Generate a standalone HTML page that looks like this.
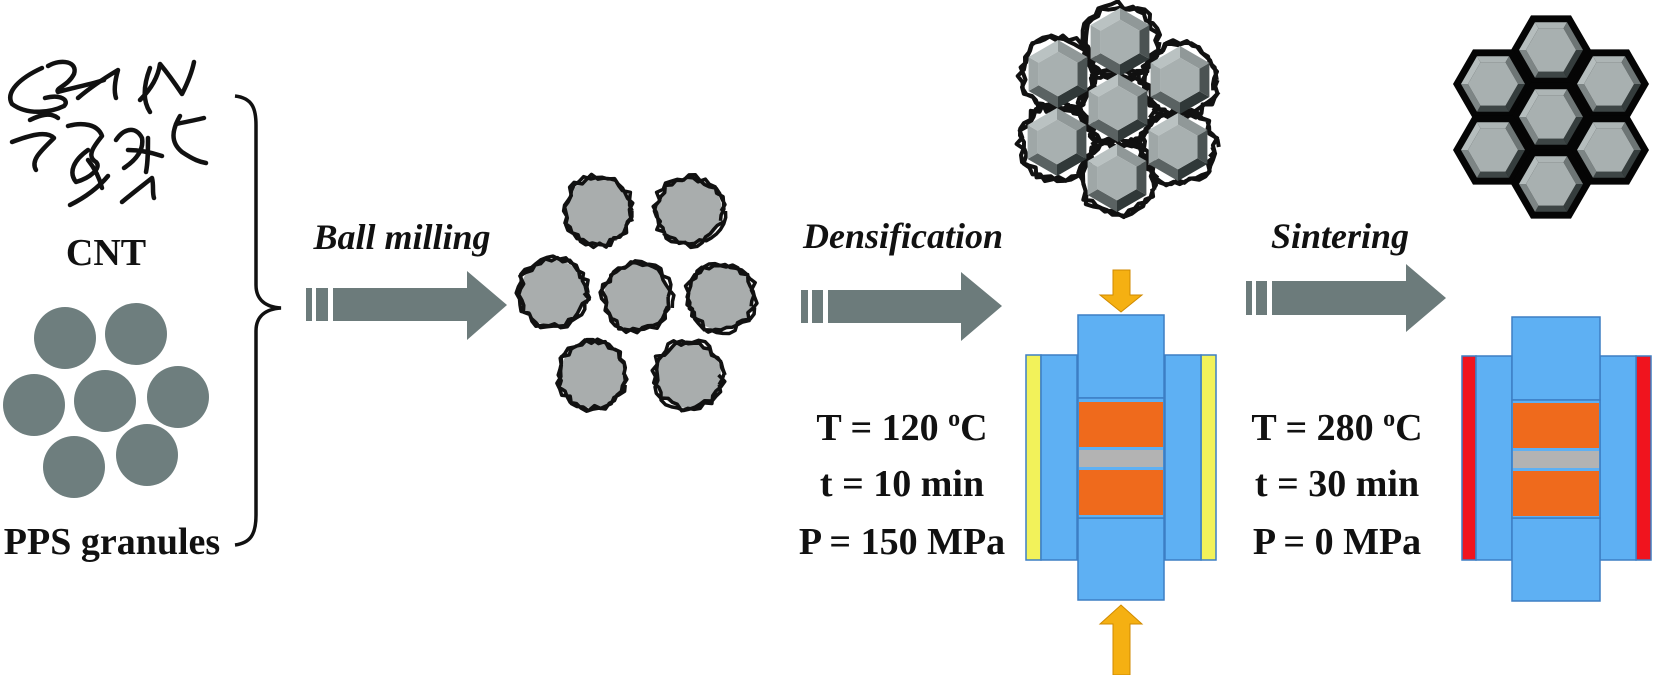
<!DOCTYPE html>
<html><head><meta charset="utf-8"><style>
html,body{margin:0;padding:0;background:#fff;}
svg{display:block}
text{font-family:"Liberation Serif",serif;font-weight:bold;fill:#111}
</style></head><body>
<svg id="s" width="1654" height="675" viewBox="0 0 1654 675" xmlns="http://www.w3.org/2000/svg">
<!-- CNT squiggles -->
<g fill="none" stroke="#111" stroke-width="4.5" stroke-linecap="round" stroke-linejoin="round">
<path d="M42,68 C20,78 5,92 12,104 C28,116 52,112 64,106 C70,100 60,94 45,98"/>
<path d="M48,66 C62,58 78,62 74,74 C68,86 55,88 58,92 C72,88 92,84 104,80"/>
<path d="M78,98 C92,86 108,76 118,70 C114,84 114,92 116,98"/>
<path d="M12,142 C28,136 46,130 54,138 C42,150 30,160 36,170"/>
<path d="M68,126 C82,122 98,124 102,136 C94,146 86,156 96,162 C102,168 90,178 76,182 C68,172 74,160 88,150"/>
<path d="M70,205 C84,198 98,188 108,176"/>
<path d="M116,140 C124,128 136,126 142,138 C144,150 136,160 124,168"/>
<path d="M140,100 C150,90 158,78 160,64 C170,76 178,88 182,94 C188,82 192,72 194,62"/>
<path d="M150,68 C144,84 142,100 150,112"/>
<path d="M180,116 C172,130 170,142 182,152 C194,160 200,162 206,163"/>
<path d="M176,124 C186,122 196,120 204,118"/>
<path d="M122,202 C134,192 142,186 152,178 C154,186 152,192 154,198"/>
<path d="M128,150 C140,150 150,152 162,156 M148,138 C148,150 148,162 146,172"/>
<path d="M88,160 C96,170 100,180 102,188"/>
<path d="M30,120 C40,115 50,112 58,118"/>
</g>
<text x="106" y="265" font-size="38" text-anchor="middle">CNT</text>
<g fill="#6e7e7e">
<circle cx="65" cy="338" r="31"/><circle cx="136" cy="334" r="31"/>
<circle cx="34" cy="405" r="31"/><circle cx="105" cy="401" r="31"/><circle cx="178" cy="397" r="31"/>
<circle cx="74" cy="467" r="31"/><circle cx="147" cy="455" r="31"/>
</g>
<text x="112" y="554" font-size="38" text-anchor="middle">PPS granules</text>
<path d="M235,96 C252,98 256,108 256,125 L256,285 C256,300 266,307 281,308 C266,309 256,316 256,331 L256,515 C256,535 250,543 235,545" fill="none" stroke="#111" stroke-width="3.5"/>

<!-- arrows -->
<g fill="#6c7b7b">
<rect x="306" y="288" width="6" height="33"/><rect x="316" y="288" width="12" height="33"/>
<polygon points="333,288 467,288 467,271 507,305 467,340 467,321 333,321"/>
<rect x="801" y="290" width="7" height="33"/><rect x="812" y="290" width="11" height="33"/>
<polygon points="828,290 961,290 961,272 1002,306 961,341 961,323 828,323"/>
<rect x="1246" y="281" width="6" height="34"/><rect x="1256" y="281" width="11" height="34"/>
<polygon points="1272,281 1406,281 1406,264 1446,298 1406,332 1406,315 1272,315"/>
</g>
<text x="402" y="249" font-size="36" font-style="italic" text-anchor="middle">Ball milling</text>
<text x="903" y="248" font-size="36" font-style="italic" text-anchor="middle">Densification</text>
<text x="1340" y="248" font-size="36" font-style="italic" text-anchor="middle">Sintering</text>

<g font-size="38" text-anchor="middle">
<text x="902" y="440">T = 120 <tspan font-size="24" dy="-14">o</tspan><tspan dy="14">C</tspan></text>
<text x="902" y="496">t = 10 min</text>
<text x="902" y="554">P = 150 MPa</text>
<text x="1337" y="440">T = 280 <tspan font-size="24" dy="-14">o</tspan><tspan dy="14">C</tspan></text>
<text x="1337" y="496">t = 30 min</text>
<text x="1337" y="554">P = 0 MPa</text>
</g>

<!-- press 1 -->
<g stroke="#3d7fc4" stroke-width="1.5">
<rect x="1026" y="355" width="15" height="205" fill="#f2f25a"/>
<rect x="1041" y="355" width="36" height="205" fill="#5eb0f3"/>
<rect x="1201" y="355" width="15" height="205" fill="#f2f25a"/>
<rect x="1165" y="355" width="36" height="205" fill="#5eb0f3"/>
<rect x="1078" y="315" width="86" height="83" fill="#5eb0f3"/>
<rect x="1078" y="518" width="86" height="82" fill="#5eb0f3"/>
<rect x="1078" y="398" width="86" height="120" fill="#5eb0f3"/>
<rect x="1079" y="402" width="84" height="45" fill="#ef6a1c" stroke="none"/>
<rect x="1079" y="450" width="84" height="17" fill="#b3b3b3" stroke="none"/>
<rect x="1079" y="470" width="84" height="45" fill="#ef6a1c" stroke="none"/>
</g>
<g fill="#f5b012" stroke="#d08a00" stroke-width="1">
<polygon points="1113,270 1130,270 1130,295 1142,295 1121,312 1100,295 1113,295"/>
<polygon points="1113,675 1130,675 1130,624 1142,624 1121,605 1100,624 1113,624"/>
</g>
<!-- press 2 -->
<g stroke="#3d7fc4" stroke-width="1.5">
<rect x="1462" y="356" width="14" height="204" fill="#f0141e"/>
<rect x="1476" y="356" width="36" height="204" fill="#5eb0f3"/>
<rect x="1636" y="356" width="15" height="204" fill="#f0141e"/>
<rect x="1600" y="356" width="36" height="204" fill="#5eb0f3"/>
<rect x="1512" y="317" width="88" height="83" fill="#5eb0f3"/>
<rect x="1512" y="518" width="88" height="83" fill="#5eb0f3"/>
<rect x="1512" y="400" width="88" height="118" fill="#5eb0f3"/>
<rect x="1513" y="403" width="86" height="45" fill="#ef6a1c" stroke="none"/>
<rect x="1513" y="451" width="86" height="17" fill="#b3b3b3" stroke="none"/>
<rect x="1513" y="471" width="86" height="45" fill="#ef6a1c" stroke="none"/>
</g>
<g id="gen"></g>
</svg>
<script>
var g=document.getElementById('gen'),NS='http://www.w3.org/2000/svg';
var seed=7;function rnd(){seed=(seed*9301+49297)%233280;return seed/233280;}
function el(t,a){var e=document.createElementNS(NS,t);for(var k in a)e.setAttribute(k,a[k]);g.appendChild(e);return e;}
function squig(cx,cy,r,w,sw){var d='';var n=36;for(var j=0;j<2;j++){for(var i=0;i<=n;i++){var a=i/n*Math.PI*2+j*0.3;var rr=r+(rnd()-0.5)*w;var x=cx+rr*Math.cos(a),y=cy+rr*Math.sin(a);d+=(i==0?'M':'L')+x.toFixed(1)+','+y.toFixed(1);}}
el('path',{d:d,fill:'none',stroke:'#111','stroke-width':sw,'stroke-linejoin':'round'});}
// coated particles
[[598,211],[689,211],[553,293],[637,297],[721,297],[593,375],[688,375]].forEach(function(p){
el('circle',{cx:p[0],cy:p[1],r:33,fill:'#a9adad'});squig(p[0],p[1],34,7,3.5);});
function pts(cx,cy,R,rot){var s=[];for(var i=0;i<6;i++){var a=Math.PI/180*(60*i+rot);s.push([cx+R*Math.cos(a),cy+R*Math.sin(a)]);}return s;}
function str(a){return a.map(function(p){return p[0].toFixed(1)+','+p[1].toFixed(1);}).join(' ');}
function shade(ang){ // ang: face normal direction in degrees (screen)
 var lx=-0.6,ly=-0.8;var nx=Math.cos(ang*Math.PI/180),ny=Math.sin(ang*Math.PI/180);var d=nx*lx+ny*ly;
 var v=Math.round(125+d*70);var c=function(x){return Math.max(40,Math.min(215,x));};
 return 'rgb('+c(v-8)+','+c(v)+','+c(v)+')';}
function bevelHex(cx,cy,R,rot,k){
 var O=pts(cx,cy,R,rot),I=pts(cx,cy,R*k,rot);
 for(var i=0;i<6;i++){var j=(i+1)%6;var ang=60*i+rot+30;
  el('polygon',{points:str([O[i],O[j],I[j],I[i]]),fill:shade(ang)});}
 el('polygon',{points:str(I),fill:'#a8b0b0'});}
var c2=[[1120,42],[1058,74],[1180,80],[1118,108],[1057,142],[1178,147],[1117,178]];
c2.forEach(function(p){squig(p[0],p[1],37,8,4);});
c2.forEach(function(p){bevelHex(p[0],p[1],34,30,0.66);});
var c3=[[1551,50],[1493,84],[1609,84],[1551,117],[1493,150],[1609,150],[1551,184]];
c3.forEach(function(p){el('polygon',{points:str(pts(p[0],p[1],40,0)),fill:'#050505'});});
c3.forEach(function(p){bevelHex(p[0],p[1],32,0,0.78);});
</script>
</body></html>
